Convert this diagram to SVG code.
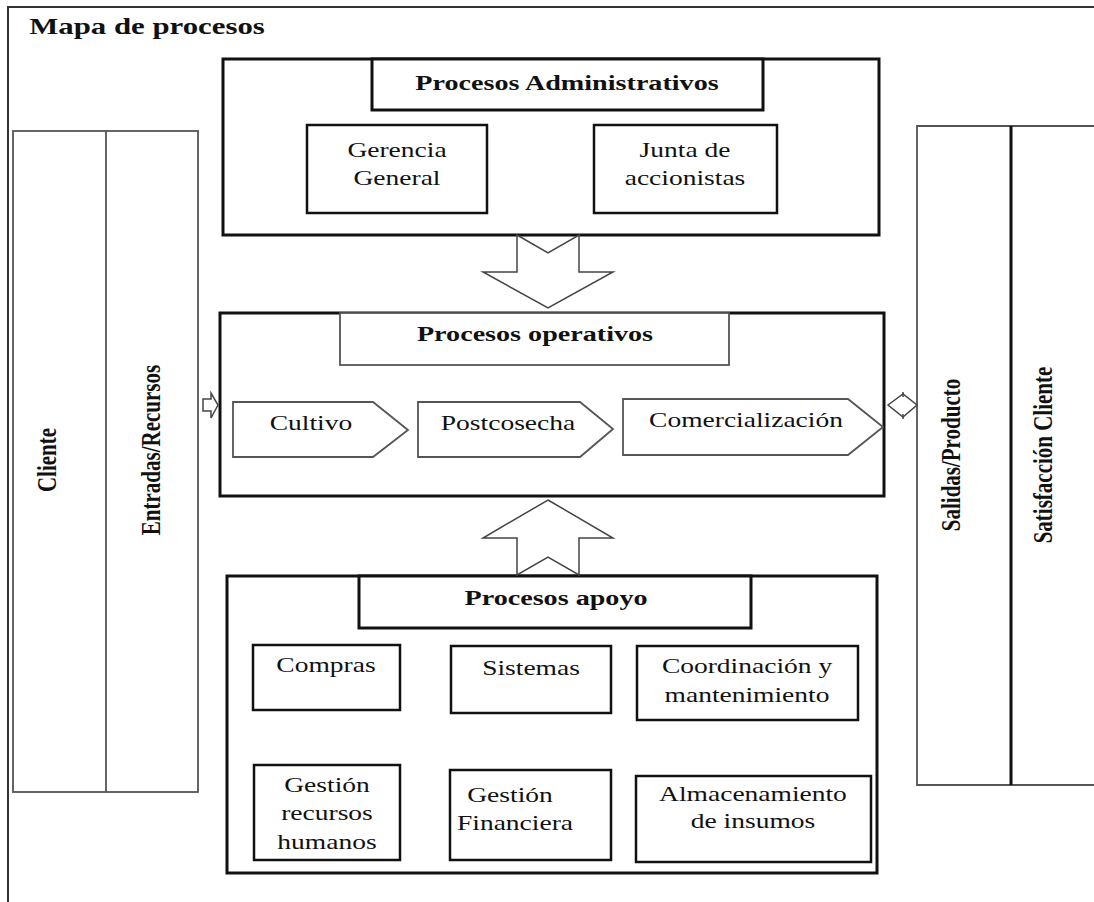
<svg xmlns="http://www.w3.org/2000/svg" width="1094" height="902" viewBox="0 0 1094 902">
<style>
text{font-family:"Liberation Serif","Times New Roman",serif;fill:#111;text-anchor:middle}
.b{font-weight:bold;font-size:21px}
.t{font-weight:bold;font-size:23px}
.r{font-size:22px}
.v{font-weight:bold;font-size:21px}
.big{fill:#fff;stroke:#111;stroke-width:3}
.box{fill:#fff;stroke:#111;stroke-width:2.5}
.thin{fill:#fff;stroke:#555;stroke-width:1.8}
.arrow{fill:#fff;stroke:#444;stroke-width:1.5;stroke-linejoin:miter}
</style>
<rect width="1094" height="902" fill="#fff"/>
<path d="M8,902 V7 H1094" fill="none" stroke="#333" stroke-width="2"/>
<text class="t" transform="translate(147,34) scale(1.34,1)">Mapa de procesos</text>

<g id="col-left">
<rect class="thin" x="13" y="131" width="185" height="661"/>
<line x1="106" y1="131" x2="106" y2="792" stroke="#555" stroke-width="1.8"/>
<text class="v" transform="translate(56,460) scale(1.3,1) rotate(-90)">Cliente</text>
<text class="v" transform="translate(160,450) scale(1.3,1) rotate(-90)">Entradas/Recursos</text>
</g>

<g id="col-right">
<path d="M1094,126 H917 V785 H1094" fill="#fff" stroke="#555" stroke-width="1.8"/>
<line x1="1011" y1="126" x2="1011" y2="785" stroke="#111" stroke-width="3"/>
<text class="v" transform="translate(960,455) scale(1.3,1) rotate(-90)">Salidas/Producto</text>
<text class="v" transform="translate(1052,455) scale(1.3,1) rotate(-90)">Satisfacción Cliente</text>
</g>

<g id="admin">
<rect class="big" x="223" y="59" width="656" height="176"/>
<rect class="big" x="372" y="59" width="391" height="51"/>
<text class="b" transform="translate(567,90) scale(1.34,1)">Procesos Administrativos</text>
</g>
<g id="gerencia">
<rect class="box" x="307" y="125" width="180" height="88"/>
<text class="r" transform="translate(397,157) scale(1.25,1)">Gerencia</text>
<text class="r" transform="translate(397,185) scale(1.25,1)">General</text>
</g>
<g id="junta">
<rect class="box" x="594" y="125" width="183" height="88"/>
<text class="r" transform="translate(685,157) scale(1.25,1)">Junta de</text>
<text class="r" transform="translate(685,185) scale(1.25,1)">accionistas</text>
</g>

<g id="operativos">
<rect class="big" x="220" y="313" width="664" height="183"/>
<rect class="thin" x="340" y="313" width="389" height="52"/>
<text class="b" transform="translate(535,341) scale(1.34,1)">Procesos operativos</text>
</g>
<g id="cultivo">
<polygon class="thin" points="233,402 373,402 408,430 373,457 233,457"/>
<text class="r" transform="translate(311,430) scale(1.25,1)">Cultivo</text>
</g>
<g id="postcosecha">
<polygon class="thin" points="418,402 580,402 613,429 580,457 418,457"/>
<text class="r" transform="translate(508,430) scale(1.25,1)">Postcosecha</text>
</g>
<g id="comercializacion">
<polygon class="thin" points="623,399 848,399 883,427 848,455 623,455"/>
<text class="r" transform="translate(746,427) scale(1.25,1)">Comercialización</text>
</g>

<g id="apoyo">
<rect class="big" x="227" y="576" width="650" height="297"/>
<rect class="big" x="359" y="576" width="392" height="52"/>
<text class="b" transform="translate(556,605) scale(1.34,1)">Procesos apoyo</text>
</g>
<g id="compras">
<rect class="box" x="253" y="645" width="147" height="65"/>
<text class="r" transform="translate(326,672) scale(1.25,1)">Compras</text>
</g>
<g id="sistemas">
<rect class="box" x="451" y="646" width="160" height="67"/>
<text class="r" transform="translate(531,675) scale(1.25,1)">Sistemas</text>
</g>
<g id="coordinacion">
<rect class="box" x="637" y="646" width="221" height="74"/>
<text class="r" transform="translate(747,673) scale(1.25,1)">Coordinación y</text>
<text class="r" transform="translate(747,702) scale(1.25,1)">mantenimiento</text>
</g>
<g id="rrhh">
<rect class="box" x="254" y="765" width="146" height="95"/>
<text class="r" transform="translate(327,792) scale(1.25,1)">Gestión</text>
<text class="r" transform="translate(327,820) scale(1.25,1)">recursos</text>
<text class="r" transform="translate(327,849) scale(1.25,1)">humanos</text>
</g>
<g id="financiera">
<rect class="box" x="450" y="770" width="161" height="90"/>
<text class="r" transform="translate(510,802) scale(1.25,1)">Gestión</text>
<text class="r" transform="translate(515,830) scale(1.25,1)">Financiera</text>
</g>
<g id="almacenamiento">
<rect class="box" x="636" y="776" width="235" height="86"/>
<text class="r" transform="translate(753,801) scale(1.25,1)">Almacenamiento</text>
<text class="r" transform="translate(753,828) scale(1.25,1)">de insumos</text>
</g>

<g id="connectors">
<polygon class="arrow" points="517,235 548,253 579,235 579,272 613,272 548,308 483,272 517,272"/>
<polygon class="arrow" points="548,500 613,538 579,538 579,575 548,557 517,575 517,538 483,538"/>
<polygon class="arrow" points="203,399 211,399 211,393 218,405 211,418 211,411 203,411"/>
<polygon class="arrow" points="888,405 903,394 917,405 903,417"/>
<line x1="903" y1="392" x2="903" y2="397" stroke="#444" stroke-width="1.5"/>
<line x1="903" y1="414" x2="903" y2="419" stroke="#444" stroke-width="1.5"/>
</g>
</svg>
